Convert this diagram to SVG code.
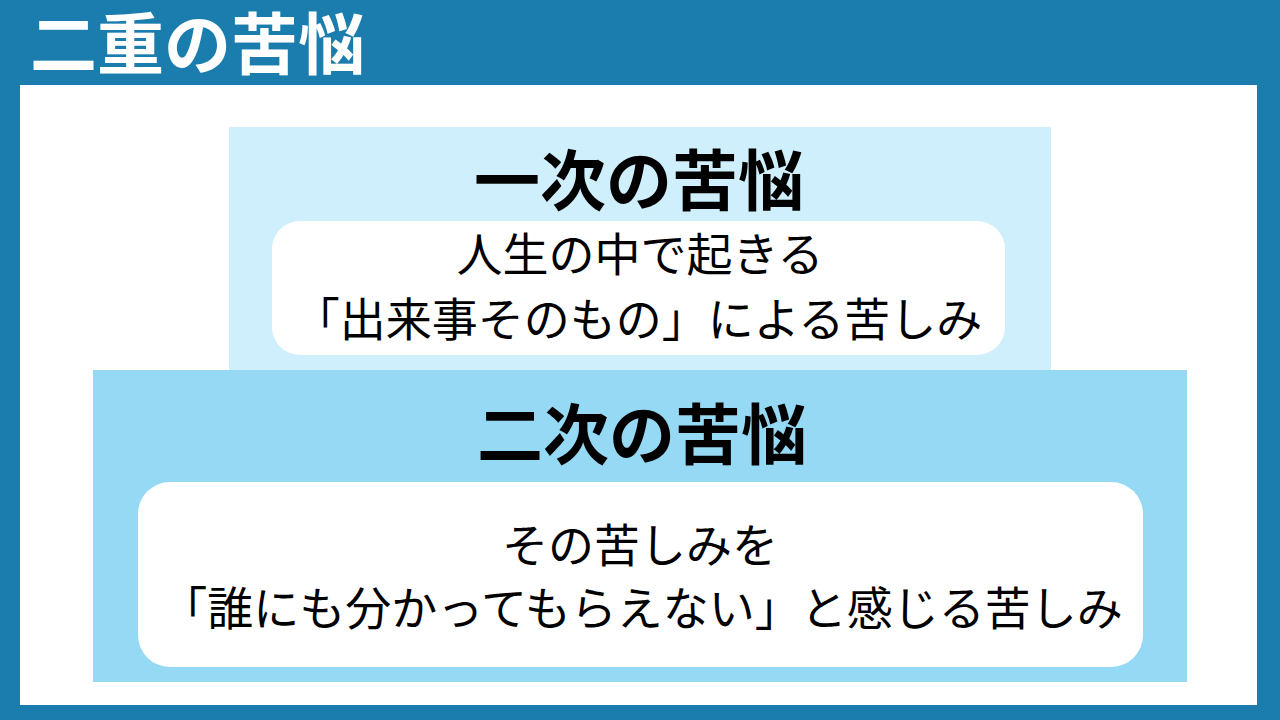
<svg xmlns="http://www.w3.org/2000/svg" width="1280" height="720" viewBox="0 0 1280 720">
<style>
.t{font-family:"Noto Sans CJK JP","Noto Sans CJK SC",sans-serif;text-anchor:middle;fill:#000}
.h{font-weight:700;font-size:66px}
.b{font-weight:400;font-size:46px}
</style>
<rect x="0" y="0" width="1280" height="720" fill="#1B7DAE"/>
<g id="title"><text x="30" y="69" font-family="Noto Sans CJK JP,sans-serif" font-weight="700" font-size="67" fill="#fff">二重の苦悩</text></g>
<rect id="panel" x="20" y="85" width="1237" height="620" fill="#fff"/>
<g id="primary">
<rect x="229" y="127" width="822" height="243" fill="#CFEFFC"/>
<text class="t h" x="639" y="205">一次の苦悩</text>
<rect x="272" y="221" width="733" height="134" rx="28" fill="#fff"/>
<text class="t b" x="640" y="271" font-size="47">人生の中で起きる</text>
<text class="t b" x="638" y="336">「出来事そのもの」による苦しみ</text>
</g>
<g id="secondary">
<rect x="93" y="370" width="1094" height="312" fill="#95D9F5"/>
<text class="t h" x="642" y="459" font-size="68">二次の苦悩</text>
<rect x="138" y="482" width="1005" height="185" rx="32" fill="#fff"/>
<text class="t b" x="640" y="562" font-size="47">その苦しみを</text>
<text class="t b" x="642" y="625" font-size="47.5">「誰にも分かってもらえない」と感じる苦しみ</text>
</g>
<g id="connectors"/>
</svg>
